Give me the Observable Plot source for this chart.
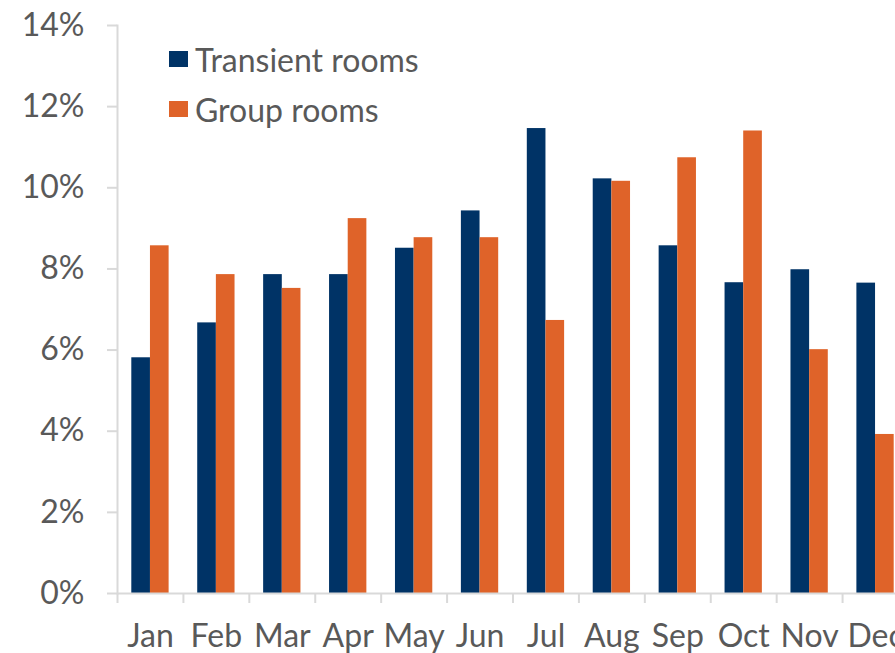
<!DOCTYPE html>
<html>
<head>
<meta charset="utf-8">
<script src="https://cdn.jsdelivr.net/npm/d3@7"></script>
<script src="https://cdn.jsdelivr.net/npm/@observablehq/plot@0.6"></script>
<style>
  html, body { margin: 0; padding: 0; background: #fff; overflow: hidden; width: 895px; height: 653px; }
  #wrap { position: relative; width: 895px; height: 653px; overflow: hidden; font-family: Lato, sans-serif; }
  #chart svg { max-width: none !important; height: 653px !important; display: block; }
  #legend { position: absolute; left: 169px; top: 34px; color: #595959; font-size: 32px; font-family: Lato, sans-serif; }
  .item { display: flex; align-items: center; height: 50px; }
  .sw { width: 19px; height: 16px; margin-right: 7px; }
</style>
</head>
<body>
<div id="wrap"><div id="chart"></div><div id="legend"></div></div>
<script>
const months = ["Jan","Feb","Mar","Apr","May","Jun","Jul","Aug","Sep","Oct","Nov","Dec"];
const transientRooms = [5.81, 6.67, 7.86, 7.86, 8.51, 9.43, 11.46, 10.22, 8.57, 7.66, 7.98, 7.65];
const groupRooms = [8.57, 7.86, 7.52, 9.24, 8.77, 8.77, 6.73, 10.16, 10.74, 11.40, 6.01, 3.92];
const seriesNames = ["Transient rooms", "Group rooms"];
const seriesColors = ["#003366", "#DF6329"];
const yTicks = [0, 2, 4, 6, 8, 10, 12, 14];

const seriesValues = [transientRooms, groupRooms];
const data = [];
seriesNames.forEach((s, i) => months.forEach((m, j) => data.push({month: m, series: s, value: seriesValues[i][j]})));

const W = 908, ML = 117, MR = 0;
const padIn = 0.434;
const step = (W - ML - MR) / months.length;
const bw = step * (1 - padIn);
const grey = "#d9d9d9", textGrey = "#595959";

const plot = Plot.plot({
  width: W, height: 653,
  marginLeft: ML, marginRight: MR, marginTop: 25, marginBottom: 60,
  style: {fontFamily: "Lato, sans-serif", fontSize: "32px", color: textGrey, background: "transparent", maxWidth: "none"},
  x: {domain: months, paddingInner: padIn, paddingOuter: padIn / 2, round: false, label: null},
  y: {domain: [0, 14], label: null},
  color: {domain: seriesNames, range: seriesColors},
  marks: [
    Plot.barY(data.filter(d => d.series === seriesNames[0]), {x: "month", y: "value", fill: "series", insetRight: bw / 2}),
    Plot.barY(data.filter(d => d.series === seriesNames[1]), {x: "month", y: "value", fill: "series", insetLeft: bw / 2}),
    Plot.ruleY([0], {stroke: grey, strokeWidth: 2}),
    Plot.frame({anchor: "left", stroke: grey, strokeWidth: 2}),
    Plot.axisY({ticks: yTicks, tickSize: 10, tickPadding: 23, tickFormat: d => d + "%", stroke: grey, strokeWidth: 2, fill: textGrey, fontSize: 32, label: null}),
    Plot.axisX({tickSize: 0, tickPadding: 31, fill: textGrey, fontSize: 32, label: null}),
    Plot.axisX({tickSize: 10, text: null, dx: -step / 2, stroke: grey, strokeWidth: 2, label: null})
  ]
});
document.getElementById("chart").appendChild(plot);

const legend = document.getElementById("legend");
seriesNames.forEach((s, i) => {
  const item = document.createElement("div");
  item.className = "item";
  const sw = document.createElement("div");
  sw.className = "sw";
  sw.style.background = seriesColors[i];
  const t = document.createElement("span");
  t.textContent = s;
  item.appendChild(sw); item.appendChild(t);
  legend.appendChild(item);
});
</script>
</body>
</html>
